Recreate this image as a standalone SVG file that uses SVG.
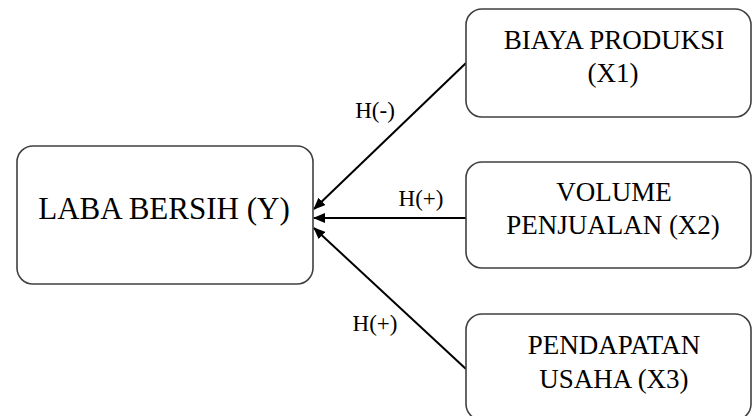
<svg xmlns="http://www.w3.org/2000/svg" width="752" height="416" viewBox="0 0 752 416">
<style>
.box{fill:#fff;stroke:#404040;stroke-width:1.6}
.t{font-family:"Liberation Serif","Times New Roman",serif;fill:#000;text-anchor:middle}
.n{font-size:27px}
.lbl{font-size:23px}
.c{stroke:#000;stroke-width:2;fill:none}
</style>
<defs>
<marker id="ah" markerWidth="12" markerHeight="10" refX="11" refY="5" orient="auto" markerUnits="userSpaceOnUse">
<path d="M0,0 L12,5 L0,10 Z" fill="#000"/>
</marker>
</defs>
<rect width="752" height="416" fill="#fff"/>
<g id="connectors">
<line class="c" x1="466" y1="63" x2="314" y2="209" marker-end="url(#ah)"/>
<line class="c" x1="466" y1="218" x2="314" y2="218" marker-end="url(#ah)"/>
<line class="c" x1="466" y1="369" x2="314" y2="228" marker-end="url(#ah)"/>
<text class="t lbl" x="375" y="118">H(-)</text>
<text class="t lbl" x="421" y="206">H(+)</text>
<text class="t lbl" x="375" y="331">H(+)</text>
</g>
<g id="y">
<rect class="box" x="17" y="146" width="296" height="138" rx="16"/>
<text class="t" x="164" y="219" font-size="31">LABA BERSIH (Y)</text>
</g>
<g id="x1">
<rect class="box" x="466" y="9" width="285" height="108" rx="16"/>
<text class="t n" x="614" y="49">BIAYA PRODUKSI</text>
<text class="t n" x="613" y="82">(X1)</text>
</g>
<g id="x2">
<rect class="box" x="466" y="162" width="285" height="106" rx="16"/>
<text class="t n" x="614" y="201">VOLUME</text>
<text class="t n" x="613" y="234">PENJUALAN (X2)</text>
</g>
<g id="x3">
<rect class="box" x="466" y="314" width="285" height="106" rx="16"/>
<text class="t n" x="614" y="354">PENDAPATAN</text>
<text class="t n" x="614" y="388">USAHA (X3)</text>
</g>
</svg>
